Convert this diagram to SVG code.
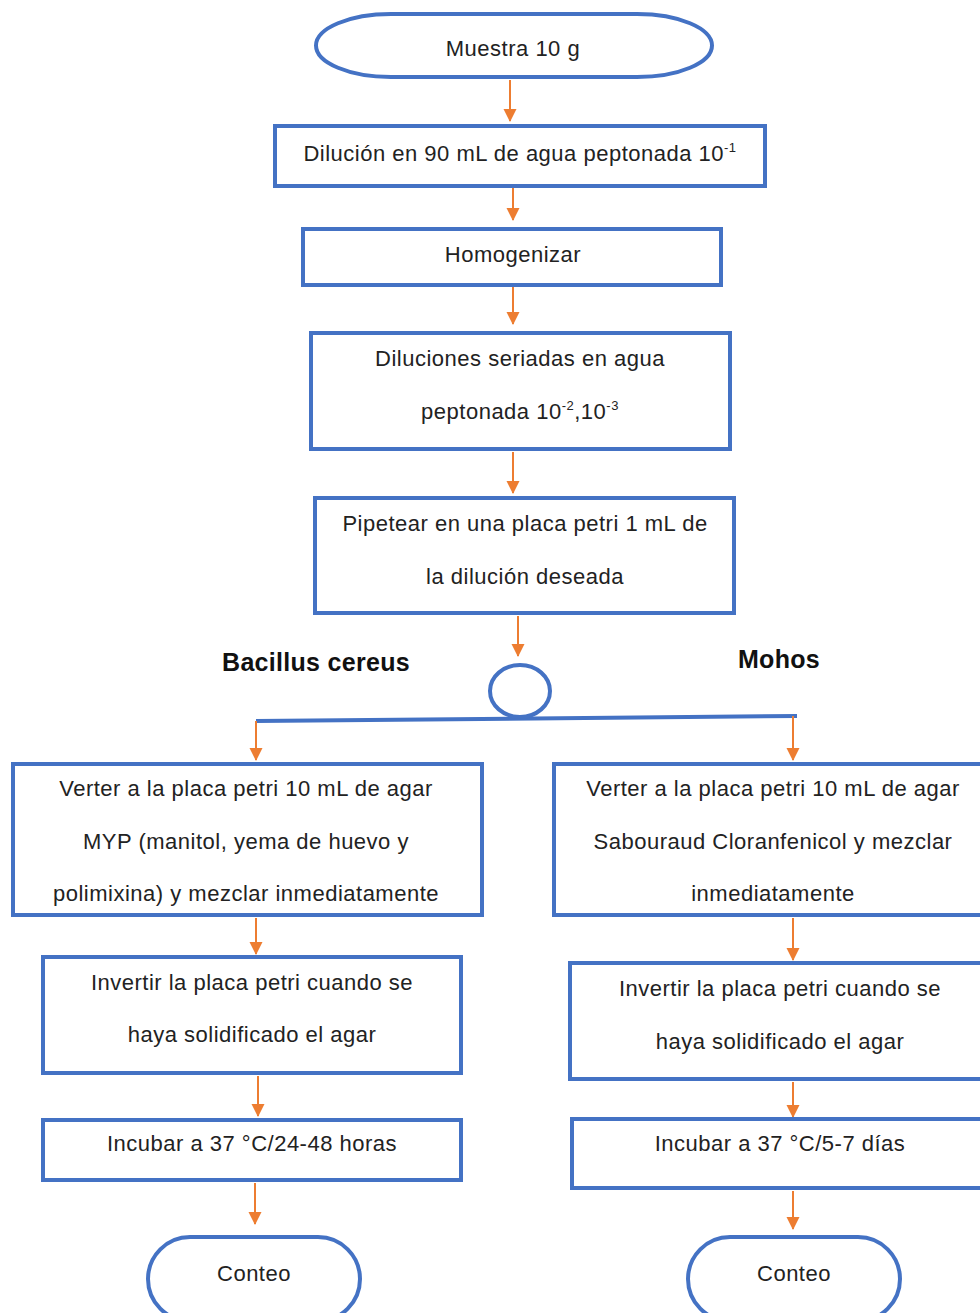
<svg xmlns="http://www.w3.org/2000/svg" width="980" height="1313" viewBox="0 0 980 1313">
<defs>
<marker id="arr" markerWidth="14" markerHeight="14" refX="12" refY="7" orient="auto" markerUnits="userSpaceOnUse">
<path d="M0,0.5 L13,7 L0,13.5 Z" fill="#ED7D31"/>
</marker>
<style>
.b{fill:#fff;stroke:#4472C4;stroke-width:4}
.t{font-family:"Liberation Sans",Arial,sans-serif;font-size:22px;letter-spacing:0.5px;fill:#222;text-anchor:middle}
.h{font-family:"Liberation Sans",Arial,sans-serif;font-size:25px;letter-spacing:0.3px;font-weight:bold;fill:#111;text-anchor:middle}
.c{stroke:#ED7D31;stroke-width:2;fill:none;marker-end:url(#arr)}
</style>
</defs>
<rect width="980" height="1313" fill="#fff"/>
<g id="connectors">
<line class="c" x1="510" y1="80" x2="510" y2="121"/>
<line class="c" x1="513" y1="188" x2="513" y2="220"/>
<line class="c" x1="513" y1="287" x2="513" y2="324"/>
<line class="c" x1="513" y1="452" x2="513" y2="493"/>
<line class="c" x1="518" y1="616" x2="518" y2="656"/>
<line x1="256" y1="721" x2="797" y2="716" stroke="#4472C4" stroke-width="4"/>
<line class="c" x1="256" y1="721" x2="256" y2="760"/>
<line class="c" x1="793" y1="716" x2="793" y2="760"/>
<line class="c" x1="256" y1="918" x2="256" y2="954"/>
<line class="c" x1="793" y1="918" x2="793" y2="960"/>
<line class="c" x1="258" y1="1076" x2="258" y2="1116"/>
<line class="c" x1="793" y1="1082" x2="793" y2="1117"/>
<line class="c" x1="255" y1="1183" x2="255" y2="1224"/>
<line class="c" x1="793" y1="1191" x2="793" y2="1229"/>
</g>
<g id="n-muestra">
<rect class="b" x="316" y="14" width="396" height="63" rx="75" ry="31.5"/>
<text class="t" x="513" y="56">Muestra 10 g</text>
</g>
<g id="n-dilucion">
<rect class="b" x="275" y="126" width="490" height="60"/>
<text class="t" x="520" y="161">Dilución en 90 mL de agua peptonada 10<tspan font-size="13" dy="-9">-1</tspan></text>
</g>
<g id="n-homogenizar">
<rect class="b" x="303" y="229" width="418" height="56"/>
<text class="t" x="513" y="262">Homogenizar</text>
</g>
<g id="n-diluciones">
<rect class="b" x="311" y="333" width="419" height="116"/>
<text class="t" x="520" y="366">Diluciones seriadas en agua</text>
<text class="t" x="520" y="419">peptonada 10<tspan font-size="13" dy="-9">-2</tspan><tspan dy="9">,10</tspan><tspan font-size="13" dy="-9">-3</tspan></text>
</g>
<g id="n-pipetear">
<rect class="b" x="315" y="498" width="419" height="115"/>
<text class="t" x="525" y="531">Pipetear en una placa petri 1 mL de</text>
<text class="t" x="525" y="584">la dilución deseada</text>
</g>
<g id="n-labels">
<text class="h" x="316" y="671">Bacillus cereus</text>
<text class="h" x="779" y="668">Mohos</text>
</g>
<g id="n-junction">
<ellipse class="b" cx="520" cy="691" rx="30" ry="26" fill="none"/>
</g>
<g id="n-verter-b">
<rect class="b" x="13" y="764" width="469" height="151"/>
<text class="t" x="246" y="796">Verter a la placa petri 10 mL de agar</text>
<text class="t" x="246" y="849">MYP (manitol, yema de huevo y</text>
<text class="t" x="246" y="901">polimixina) y mezclar inmediatamente</text>
</g>
<g id="n-verter-m">
<rect class="b" x="554" y="764" width="440" height="151"/>
<text class="t" x="773" y="796">Verter a la placa petri 10 mL de agar</text>
<text class="t" x="773" y="849">Sabouraud Cloranfenicol y mezclar</text>
<text class="t" x="773" y="901">inmediatamente</text>
</g>
<g id="n-invertir-b">
<rect class="b" x="43" y="957" width="418" height="116"/>
<text class="t" x="252" y="990">Invertir la placa petri cuando se</text>
<text class="t" x="252" y="1042">haya solidificado el agar</text>
</g>
<g id="n-invertir-m">
<rect class="b" x="570" y="963" width="424" height="116"/>
<text class="t" x="780" y="996">Invertir la placa petri cuando se</text>
<text class="t" x="780" y="1049">haya solidificado el agar</text>
</g>
<g id="n-incubar-b">
<rect class="b" x="43" y="1120" width="418" height="60"/>
<text class="t" x="252" y="1151">Incubar a 37 °C/24-48 horas</text>
</g>
<g id="n-incubar-m">
<rect class="b" x="572" y="1119" width="422" height="69"/>
<text class="t" x="780" y="1151">Incubar a 37 °C/5-7 días</text>
</g>
<g id="n-conteo-b">
<rect class="b" x="148" y="1237" width="212" height="84" rx="42" ry="42"/>
<text class="t" x="254" y="1281">Conteo</text>
</g>
<g id="n-conteo-m">
<rect class="b" x="688" y="1237" width="212" height="84" rx="42" ry="42"/>
<text class="t" x="794" y="1281">Conteo</text>
</g>
</svg>
